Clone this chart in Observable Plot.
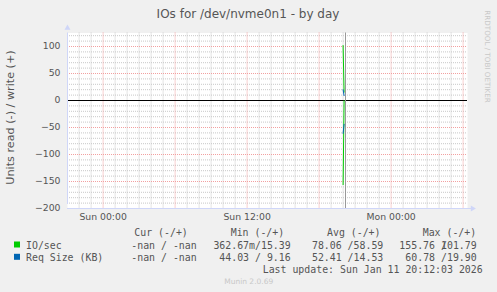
<!DOCTYPE html>
<html>
<head>
<meta charset="utf-8">
<script src="https://cdn.jsdelivr.net/npm/d3@7"></script>
<script src="https://cdn.jsdelivr.net/npm/@observablehq/plot@0.6"></script>
<style>
  html, body { margin: 0; padding: 0; background: #F0F0F0; }
  #chart { width: 497px; height: 292px; }
</style>
</head>
<body>
<div id="chart"></div>
<script>
// ---- data ----
const title = "IOs for /dev/nvme0n1 - by day";
const yLabel = "Units read (-) / write (+)";
const sampleTimes = ["2026-01-11T20:00:00Z", "2026-01-11T20:05:00Z"];
const ioRead = [155.76, 0.36267];     // drawn negative
const ioWrite = [101.79, 15.39];
const reqRead = [60.78, 44.03];       // drawn negative
const reqWrite = [19.90, 9.16];
const lastUpdate = "2026-01-11T20:12:03Z";
const xDomain = ["2026-01-10T21:02:00Z", "2026-01-12T06:22:00Z"];
const yDomain = [-200, 125];
const yTicks = [-200, -150, -100, -50, 0, 50, 100];
const xTickTimes = ["2026-01-11T00:00:00Z", "2026-01-11T12:00:00Z", "2026-01-12T00:00:00Z"];
const xTickLabels = ["Sun 00:00", "Sun 12:00", "Mon 00:00"];
const legendNames = ["IO/sec", "Req Size (KB)"];
const legendColors = ["#00CC00", "#0066B3"];
const legendHeaders = ["Cur (-/+)", "Min (-/+)", "Avg (-/+)", "Max (-/+)"];
const curVals = ["-nan / -nan", "-nan / -nan"];
const minVals = ["362.67m/15.39", "44.03 / 9.16"];
const avgVals = ["78.06 /58.59", "52.41 /14.53"];
const maxVals = ["155.76 /101.79", "60.78 /19.90"];
const lastUpdateText = "Last update: Sun Jan 11 20:12:03 2026";
const footer = "Munin 2.0.69";
const watermark = "RRDTOOL / TOBI OETIKER";

// ---- derived tables ----
const parse = s => new Date(s);
const series = sampleTimes.map((t, i) => ({
  t: parse(t), ioR: -ioRead[i], ioW: ioWrite[i], rqR: -reqRead[i], rqW: reqWrite[i]
}));
const x0 = parse(xDomain[0]), x1 = parse(xDomain[1]);
const hours = d3.utcHour.range(x0, x1);
const majorHours = hours.filter(d => d.getUTCHours() % 6 === 0);
const minorHours = hours.filter(d => d.getUTCHours() % 6 !== 0);
const yMinor = d3.range(-190, 125, 10).filter(v => v % 50 !== 0);
const yMajor = d3.range(-150, 125, 50).filter(v => v !== 0);

const gridMinor = "#c8c8c8";
const gridMajor = "#f2a0a0";
const axisColor = "#CFD6F8";

const plot = Plot.plot({
  width: 497, height: 292,
  marginLeft: 67, marginRight: 30, marginTop: 32.5, marginBottom: 84,
  style: { background: "#F0F0F0", fontFamily: "DejaVu Sans", fontSize: "9.3px", color: "#555", overflow: "visible" },
  x: { type: "utc", domain: [x0, x1] },
  y: { domain: yDomain },
  marks: [
    Plot.frame({ fill: "white", stroke: null }),
    Plot.ruleX(minorHours, { stroke: gridMinor, strokeDasharray: "1,1" }),
    Plot.ruleY(yMinor, { stroke: gridMinor, strokeDasharray: "1,1" }),
    Plot.ruleX(majorHours, { stroke: gridMajor, strokeDasharray: "1,1" }),
    Plot.ruleY(yMajor, { stroke: gridMajor, strokeDasharray: "1,1" }),
    Plot.ruleY([0], { stroke: "#000", strokeWidth: 1 }),
    Plot.line(series, { x: "t", y: "ioR", stroke: legendColors[0], strokeWidth: 1 }),
    Plot.line(series, { x: "t", y: "ioW", stroke: legendColors[0], strokeWidth: 1 }),
    Plot.line(series, { x: "t", y: "rqR", stroke: legendColors[1], strokeWidth: 1 }),
    Plot.line(series, { x: "t", y: "rqW", stroke: legendColors[1], strokeWidth: 1 }),
    Plot.ruleX([parse(lastUpdate)], { stroke: "#999", strokeWidth: 1 }),
    Plot.ruleX([x0], { y1: yDomain[0], y2: yDomain[1], stroke: axisColor, insetTop: -4 }),
    Plot.ruleY([yDomain[0]], { x1: x0, x2: x1, stroke: axisColor, insetRight: -4 }),
    Plot.dot([{ t: x0, v: yDomain[1] }], { x: "t", y: "v", symbol: "triangle", r: 2.2, fill: axisColor, stroke: null, dy: -5 }),
    Plot.dot([{ t: x1, v: yDomain[0] }], { x: "t", y: "v", symbol: "triangle", r: 2.2, fill: axisColor, stroke: null, dx: 5, rotate: 90 }),
    Plot.axisY({ ticks: yTicks, tickSize: 0, tickPadding: 7, label: null }),
    Plot.axisX({ ticks: xTickTimes.map(parse), tickFormat: (d, i) => xTickLabels[i], tickSize: 0, tickPadding: 5, label: null })
  ]
});
document.getElementById("chart").appendChild(plot);

// ---- texts (title, y label, legend) ----
const svg = d3.select(plot);
const txt = "#555";
svg.append("text").attr("x", 248).attr("y", 18).attr("text-anchor", "middle")
  .attr("font-family", "DejaVu Sans").attr("font-size", "12px").attr("fill", txt).text(title);
svg.append("text").attr("transform", "translate(14,117.5) rotate(-90)").attr("text-anchor", "middle")
  .attr("font-family", "DejaVu Sans").attr("font-size", "11.2px").attr("fill", txt).text(yLabel);
svg.append("text").attr("transform", "translate(485,56.5) rotate(90)").attr("text-anchor", "middle")
  .attr("font-family", "DejaVu Sans").attr("font-size", "7.2px").attr("fill", "#c8c8c8").text(watermark);

const cw = 5.96;
const mono = { "font-family": "DejaVu Sans Mono", "font-size": "9.9px", fill: txt };
function mtext(x, y, s, anchor) {
  const t = svg.append("text").attr("x", x).attr("y", y).attr("text-anchor", anchor || "start").text(s);
  for (const k in mono) t.attr(k, mono[k]);
  t.style("white-space", "pre");
  return t;
}
// right-aligned column value; overly long values overlap their "/" with the next char, as rrdtool does
function colText(xr, y, s) {
  if (s.length > 13) {
    const k = s.indexOf("/");
    const right = s.slice(k + 1), left = s.slice(0, k + 1);
    mtext(xr, y, right, "end");
    mtext(xr - (right.length - 1) * cw, y, left, "end");
  } else {
    mtext(xr, y, s, "end");
  }
}
const headerX = [134.3, 230.7, 327, 422.7];
legendHeaders.forEach((h, i) => mtext(headerX[i], 236, h));
const rowY = [248.5, 260.8];
legendNames.forEach((n, i) => {
  svg.append("rect").attr("x", 14).attr("y", rowY[i] - 7).attr("width", 6).attr("height", 6).attr("fill", legendColors[i]);
  mtext(26, rowY[i], n);
  colText(196.7, rowY[i], curVals[i]);
  colText(290.7, rowY[i], minVals[i]);
  colText(383.3, rowY[i], avgVals[i]);
  colText(476.7, rowY[i], maxVals[i]);
});
mtext(482.7, 272.5, lastUpdateText, "end");
svg.append("text").attr("x", 248.7).attr("y", 284).attr("text-anchor", "middle")
  .attr("font-family", "DejaVu Sans").attr("font-size", "7.5px").attr("fill", "#c8c8c8").text(footer);
</script>
</body>
</html>
